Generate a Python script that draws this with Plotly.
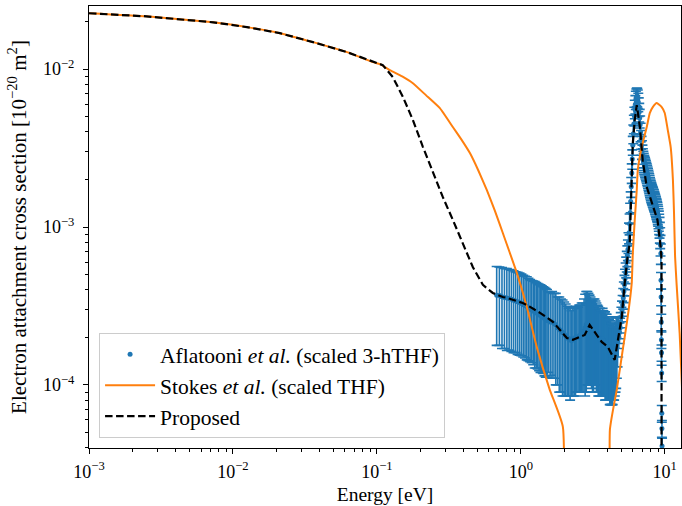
import plotly.graph_objects as go

# ---------------- data ----------------
# Aflatooni et al. (scaled 3-hTHF): energy [eV], cross section [1e-20 m^2], error
afl_energy = [
    0.68, 0.71, 0.74, 0.77, 0.80, 0.83, 0.86, 0.89, 0.92, 0.95, 0.98, 1.01, 1.04, 1.07,
    1.10, 1.13, 1.16, 1.19, 1.22, 1.25, 1.28, 1.31, 1.34, 1.37, 1.40, 1.43, 1.46, 1.49,
    1.52,
    1.55, 1.60, 1.65, 1.70, 1.75, 1.80, 1.85, 1.90, 1.95, 2.00, 2.05, 2.10, 2.15, 2.20,
    2.25, 2.30, 2.35, 2.40, 2.45, 2.50, 2.55, 2.60, 2.65, 2.70, 2.75, 2.80, 2.85, 2.90,
    2.95, 3.00, 3.05, 3.10, 3.15, 3.20, 3.25, 3.30, 3.35, 3.40, 3.45, 3.50, 3.55, 3.60,
    3.65, 3.70, 3.75, 3.80, 3.85, 3.90, 3.95, 4.00, 4.05, 4.10, 4.15, 4.20, 4.25, 4.30,
    4.35, 4.40, 4.45, 4.50, 4.55, 4.60, 4.65, 4.70, 4.75,
    4.80, 4.85, 4.90, 4.95, 5.00, 5.05, 5.10, 5.15, 5.20, 5.25, 5.30, 5.35, 5.40, 5.45,
    5.50, 5.55, 5.60, 5.65, 5.70, 5.75, 5.80, 5.85, 5.90, 5.95, 6.00, 6.05, 6.10, 6.15,
    6.20, 6.25, 6.30, 6.35, 6.40, 6.45, 6.50, 6.55, 6.60, 6.65, 6.70, 6.75, 6.80, 6.85,
    6.90, 6.95, 7.00, 7.05, 7.10, 7.15, 7.20, 7.25, 7.30, 7.35, 7.40, 7.45, 7.50, 7.55,
    7.60, 7.65, 7.70, 7.75, 7.80, 7.85, 7.90, 7.95, 8.00, 8.05, 8.10, 8.15, 8.20, 8.25,
    8.30, 8.35, 8.40, 8.45, 8.50, 8.55, 8.60, 8.65, 8.70, 8.75, 8.80, 8.85, 8.90, 8.95,
    9.00, 9.05, 9.10, 9.15, 9.20, 9.25, 9.30, 9.35, 9.40,
    9.42, 9.44, 9.46, 9.48, 9.50, 9.52, 9.54, 9.56, 9.58,
]
afl_sigma = [
    3.70e-4, 3.68e-4, 3.62e-4, 3.58e-4, 3.55e-4, 3.52e-4, 3.48e-4, 3.44e-4, 3.40e-4,
    3.36e-4, 3.32e-4, 3.28e-4, 3.22e-4, 3.18e-4, 3.14e-4, 3.08e-4, 3.02e-4, 2.98e-4,
    2.94e-4, 2.90e-4, 2.86e-4, 2.82e-4, 2.78e-4, 2.75e-4, 2.72e-4, 2.68e-4, 2.64e-4,
    2.60e-4, 2.57e-4,
    2.55e-4, 2.50e-4, 2.50e-4, 2.45e-4, 2.40e-4, 2.30e-4, 2.25e-4, 2.20e-4, 2.15e-4,
    2.10e-4, 2.05e-4, 2.00e-4, 1.95e-4, 1.95e-4, 1.90e-4, 1.95e-4, 1.95e-4, 2.00e-4,
    2.00e-4, 2.00e-4, 2.05e-4, 2.05e-4, 2.10e-4, 2.10e-4, 2.20e-4, 2.30e-4, 2.40e-4,
    2.45e-4, 2.40e-4, 2.35e-4, 2.30e-4, 2.20e-4, 2.15e-4, 2.20e-4, 2.25e-4, 2.20e-4,
    2.10e-4, 2.05e-4, 2.00e-4, 1.95e-4, 1.95e-4, 1.90e-4, 1.90e-4, 1.95e-4, 1.90e-4,
    1.85e-4, 1.85e-4, 1.80e-4, 1.80e-4, 1.75e-4, 1.75e-4, 1.70e-4, 1.70e-4, 1.65e-4,
    1.60e-4, 1.60e-4, 1.55e-4, 1.60e-4, 1.55e-4, 1.60e-4, 1.70e-4, 1.80e-4, 1.90e-4,
    2.00e-4, 2.10e-4,
    2.00e-4, 2.15e-4, 2.30e-4, 2.50e-4, 2.70e-4, 2.95e-4, 3.20e-4, 3.55e-4, 3.90e-4,
    4.30e-4, 4.70e-4, 5.15e-4, 5.60e-4, 6.10e-4, 6.60e-4, 7.20e-4, 8.00e-4, 9.20e-4,
    1.05e-3, 1.23e-3, 1.45e-3, 1.80e-3, 2.20e-3, 2.70e-3, 3.30e-3, 3.90e-3, 4.50e-3,
    5.05e-3, 5.60e-3, 6.00e-3, 6.40e-3, 6.60e-3, 6.70e-3, 6.65e-3, 6.50e-3, 6.20e-3,
    5.80e-3, 5.35e-3, 4.90e-3, 4.45e-3, 4.00e-3, 3.60e-3, 3.30e-3, 3.10e-3, 2.90e-3,
    2.75e-3, 2.65e-3, 2.57e-3, 2.50e-3, 2.45e-3, 2.40e-3, 2.35e-3, 2.30e-3, 2.25e-3,
    2.20e-3, 2.15e-3, 2.10e-3, 2.05e-3, 2.00e-3, 1.95e-3, 1.90e-3, 1.85e-3, 1.80e-3,
    1.76e-3, 1.72e-3, 1.68e-3, 1.65e-3, 1.62e-3, 1.60e-3, 1.57e-3, 1.55e-3, 1.52e-3,
    1.50e-3, 1.47e-3, 1.45e-3, 1.42e-3, 1.40e-3, 1.37e-3, 1.35e-3, 1.32e-3, 1.30e-3,
    1.27e-3, 1.25e-3, 1.21e-3, 1.18e-3, 1.14e-3, 1.10e-3, 1.05e-3, 1.00e-3, 9.30e-4,
    8.60e-4, 7.70e-4, 6.80e-4,
    4.6e-4, 3.6e-4, 2.5e-4, 1.93e-4, 1.6e-4, 1.19e-4, 6.6e-5, 5.3e-5, 4.1e-5,
]
afl_err = [
    1.92e-4, 1.90e-4, 1.92e-4, 1.88e-4, 1.90e-4, 1.86e-4, 1.85e-4, 1.84e-4, 1.80e-4,
    1.80e-4, 1.78e-4, 1.75e-4, 1.72e-4, 1.70e-4, 1.70e-4, 1.66e-4, 1.62e-4, 1.60e-4,
    1.60e-4, 1.62e-4, 1.58e-4, 1.56e-4, 1.55e-4, 1.55e-4, 1.52e-4, 1.50e-4, 1.50e-4,
    1.48e-4, 1.45e-4,
    1.35e-4, 1.35e-4, 1.40e-4, 1.35e-4, 1.40e-4, 1.30e-4, 1.35e-4, 1.30e-4, 1.30e-4,
    1.25e-4, 1.20e-4, 1.15e-4, 1.10e-4, 1.15e-4, 1.05e-4, 1.10e-4, 1.10e-4, 1.15e-4,
    1.10e-4, 1.10e-4, 1.15e-4, 1.15e-4, 1.20e-4, 1.20e-4, 1.30e-4, 1.45e-4, 1.50e-4,
    1.45e-4, 1.40e-4, 1.35e-4, 1.30e-4, 1.25e-4, 1.25e-4, 1.30e-4, 1.25e-4, 1.20e-4,
    1.20e-4, 1.15e-4, 1.15e-4, 1.10e-4, 1.10e-4, 1.05e-4, 1.05e-4, 1.10e-4, 1.05e-4,
    1.00e-4, 1.05e-4, 1.00e-4, 1.00e-4, 0.95e-4, 0.95e-4, 0.90e-4, 0.95e-4, 0.90e-4,
    0.85e-4, 0.85e-4, 0.80e-4, 0.80e-4, 0.75e-4, 0.75e-4, 0.80e-4, 0.85e-4, 0.80e-4,
    0.70e-4, 0.60e-4,
    3.0e-5, 3.2e-5, 3.4e-5, 3.7e-5, 4.0e-5, 4.4e-5, 4.8e-5, 5.3e-5, 5.8e-5, 6.4e-5,
    7.0e-5, 7.7e-5, 8.4e-5, 9.1e-5, 9.9e-5, 1.08e-4, 1.20e-4, 1.38e-4, 1.58e-4, 1.85e-4,
    2.20e-4, 2.60e-4, 3.10e-4, 3.80e-4, 4.50e-4, 5.30e-4, 6.00e-4, 6.80e-4, 7.50e-4,
    8.00e-4, 8.50e-4, 8.80e-4, 9.00e-4, 8.90e-4, 8.70e-4, 8.30e-4, 7.80e-4, 7.20e-4,
    6.60e-4, 6.00e-4, 5.40e-4, 4.90e-4, 4.50e-4, 4.20e-4, 4.00e-4, 3.80e-4, 3.70e-4,
    3.60e-4, 3.50e-4, 3.45e-4, 3.40e-4, 3.35e-4, 3.30e-4, 3.20e-4, 3.15e-4, 3.10e-4,
    3.00e-4, 2.95e-4, 2.90e-4, 2.80e-4, 2.75e-4, 2.70e-4, 2.60e-4, 2.55e-4, 2.50e-4,
    2.45e-4, 2.40e-4, 2.35e-4, 2.30e-4, 2.30e-4, 2.25e-4, 2.20e-4, 2.20e-4, 2.15e-4,
    2.10e-4, 2.10e-4, 2.05e-4, 2.00e-4, 2.00e-4, 1.95e-4, 1.90e-4, 1.85e-4, 1.80e-4,
    1.75e-4, 1.70e-4, 1.65e-4, 1.60e-4, 1.55e-4, 1.50e-4, 1.40e-4, 1.30e-4, 1.15e-4,
    1.00e-4,
    5.5e-5, 4.3e-5, 3.0e-5, 2.3e-5, 1.9e-5, 1.4e-5, 8.0e-6, 6.4e-6, 5.0e-6,
]

# Stokes et al. (scaled THF)
stokes_energy = [
    0.001, 0.0025, 0.0073, 0.0125, 0.0212, 0.036, 0.062, 0.094, 0.105, 0.123, 0.15,
    0.178, 0.22, 0.274, 0.337, 0.386, 0.443, 0.507, 0.581, 0.66, 0.75, 0.938, 1.10,
    1.29, 1.59, 1.96, 1.97,
    4.15, 4.16, 4.64, 5.11, 5.53, 5.90, 6.0, 6.19, 6.39, 6.5, 6.92, 7.5, 7.87, 8.26,
    8.8, 9.53, 10.0, 10.5, 11.0, 11.4, 11.6, 11.8, 12.1, 12.7, 13.3,
]
stokes_sigma = [
    0.0226, 0.0216, 0.0198, 0.01846, 0.0169, 0.01483, 0.01282, 0.01107, 0.01076,
    0.00986, 0.0090, 0.00815, 0.00682, 0.00566, 0.00430, 0.00359, 0.00294, 0.00228,
    0.00171, 0.00127, 9.16e-4, 5.12e-4, 3.12e-4, 1.74e-4, 9.3e-5, 5.42e-5, 0.0,
    0.0, 5.2e-5, 9.3e-5, 1.67e-4, 2.69e-4, 4.43e-4, 6.8e-4, 1.11e-3, 1.71e-3, 2.3e-3,
    3.21e-3, 4.3e-3, 5.27e-3, 5.75e-3, 6.1e-3, 5.75e-3, 5.27e-3, 4.11e-3, 3.21e-3,
    1.98e-3, 1.23e-3, 6.5e-4, 4.3e-4, 2.1e-4, 8.0e-5,
]

# Proposed
prop_energy = [
    0.001, 0.0025, 0.0073, 0.0125, 0.0212, 0.036, 0.062, 0.094, 0.105, 0.11, 0.129,
    0.152, 0.178, 0.209, 0.245, 0.287, 0.337, 0.395, 0.464, 0.545, 0.639, 0.75, 0.80,
    1.03, 1.10, 1.36, 1.67, 2.09, 2.30, 2.57, 2.78, 3.01, 3.27, 3.65, 4.02, 4.49, 4.72,
    5.03, 5.27, 5.53, 5.71, 5.80, 5.90, 6.0, 6.19, 6.39, 6.72, 7.03, 7.5, 8.14, 8.9,
    9.37, 9.5, 9.51,
]
prop_sigma = [
    0.0226, 0.0216, 0.0198, 0.01846, 0.0169, 0.01483, 0.01282, 0.01107, 0.01076,
    0.0106, 0.0089, 0.00665, 0.00476, 0.00321, 0.00220, 0.00155, 0.00111, 7.92e-4,
    5.58e-4, 4.30e-4, 3.82e-4, 3.60e-4, 3.56e-4, 3.30e-4, 3.21e-4, 2.86e-4, 2.51e-4,
    1.98e-4, 1.93e-4, 2.01e-4, 2.07e-4, 2.40e-4, 2.16e-4, 1.87e-4, 1.74e-4, 1.44e-4,
    1.9e-4, 2.7e-4, 4.4e-4, 6.6e-4, 7.8e-4, 1.28e-3, 2.07e-3, 3.4e-3, 4.76e-3, 5.92e-3,
    4.3e-3, 2.65e-3, 1.79e-3, 1.42e-3, 1.11e-3, 7.46e-4, 6.2e-4, 0.0,
]

x_tickvals = [1e-3, 1e-2, 1e-1, 1e0, 1e1]
x_ticktext = ["10<sup>−3</sup>", "10<sup>−2</sup>", "10<sup>−1</sup>", "10<sup>0</sup>", "10<sup>1</sup>"]
y_tickvals = [1e-4, 1e-3, 1e-2]
y_ticktext = ["10<sup>−4</sup>", "10<sup>−3</sup>", "10<sup>−2</sup>"]

# zero values are clipped to a tiny floor (as a log axis does), giving vertical drops
FLOOR = 1e-12
def clip(vals):
    return [v if v > 0 else FLOOR for v in vals]

minor_x = [m * 10.0 ** d for d in range(-3, 2) for m in range(2, 10)]
minor_y = [m * 10.0 ** d for d in range(-5, -1) for m in range(2, 10)]

BLUE = "#1f77b4"
ORANGE = "#ff7f0e"
FONT = "Liberation Serif"

fig = go.Figure()
fig.add_trace(go.Scatter(
    x=afl_energy, y=afl_sigma, mode="markers",
    marker=dict(color=BLUE, size=5),
    error_y=dict(type="data", array=afl_err, symmetric=True, color=BLUE,
                 thickness=1.6, width=5),
    name="Aflatooni <i>et al.</i> (scaled 3-hTHF)",
))
fig.add_trace(go.Scatter(
    x=stokes_energy, y=clip(stokes_sigma), mode="lines",
    line=dict(color=ORANGE, width=2, shape="spline", smoothing=0.4),
    name="Stokes <i>et al.</i> (scaled THF)",
))
fig.add_trace(go.Scatter(
    x=prop_energy, y=clip(prop_sigma), mode="lines",
    line=dict(color="black", width=2.2, dash="7.5px,3.5px"),
    name="Proposed",
))

axis_common = dict(
    type="log", showgrid=False, zeroline=False, showline=True, linecolor="black",
    linewidth=1, mirror=True, ticks="outside", ticklen=5, tickwidth=1,
    tickcolor="black", tickmode="array",
    tickfont=dict(family=FONT, size=18, color="black"),
)
fig.update_xaxes(
    **axis_common, range=[-3, 1.113], tickvals=x_tickvals, ticktext=x_ticktext,
    ticklabelstandoff=2,
    minor=dict(tickvals=minor_x, ticks="outside", ticklen=3, tickwidth=0.8, tickcolor="black"),
    title=dict(text="Energy [eV]", font=dict(family=FONT, size=19.5, color="black"), standoff=6),
)
fig.update_yaxes(
    **axis_common, range=[-4.4, -1.6], tickvals=y_tickvals, ticktext=y_ticktext,
    ticklabelstandoff=5,
    minor=dict(tickvals=minor_y, ticks="outside", ticklen=3, tickwidth=0.8, tickcolor="black"),
    title=dict(text="Electron attachment cross section [10<sup>−20</sup> m<sup>2</sup>]",
               font=dict(family=FONT, size=21, color="black"), standoff=10),
)
fig.update_layout(
    width=682, height=506,
    margin=dict(l=89, r=1, t=6, b=58),
    paper_bgcolor="white", plot_bgcolor="white",
    font=dict(family=FONT, size=18, color="black"),
    showlegend=True,
    legend=dict(x=0.017, y=0.023, xanchor="left", yanchor="bottom",
                bgcolor="rgba(255,255,255,0.8)", bordercolor="#cccccc", borderwidth=1,
                itemwidth=50,
                font=dict(family=FONT, size=21.5, color="black"), tracegroupgap=2),
)
fig.write_html("out.html", config={"displayModeBar": False},
               post_script="document.body.style.margin='0px';")
